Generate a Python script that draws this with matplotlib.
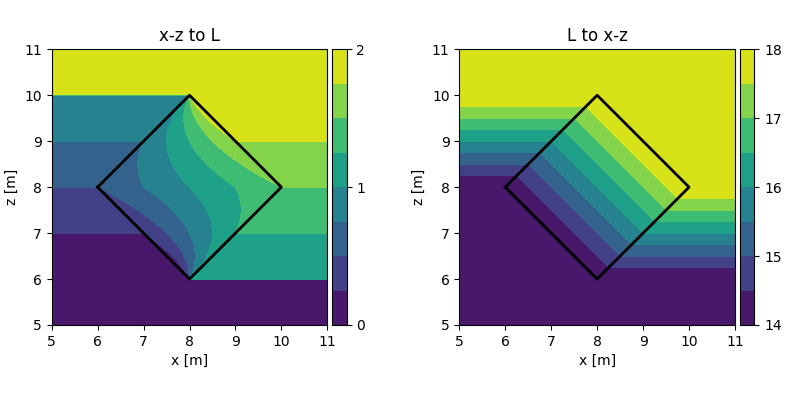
import numpy as np
import matplotlib
matplotlib.use("Agg")
import matplotlib.pyplot as plt

# ---- data ----
square_x = [6, 8, 10, 8, 6]          # rotated square outline (x)
square_z = [8, 10, 8, 6, 8]          # rotated square outline (z)
x_range = [5, 11]
z_range = [5, 11]
L_levels = [0, 0.25, 0.5, 0.75, 1.0, 1.25, 1.5, 1.75, 2.0]
L_ticks = [0, 1, 2]
XZ_levels = [14, 14.5, 15, 15.5, 16, 16.5, 17, 17.5, 18]
XZ_ticks = [14, 15, 16, 17, 18]
# L along the square's left edges (bottom corner -> top corner)
L_left_edges = [0.0, 1.0]
# L along the square's right edges (bottom corner -> top corner)
L_right_edges = [1.0, 2.0]
titles = ["x-z to L", "L to x-z"]

# ---- grid ----
x = np.linspace(x_range[0], x_range[1], 301)
z = np.linspace(z_range[0], z_range[1], 301)
X, Z = np.meshgrid(x, z)
xc, zc = square_x[1], square_z[0]          # centre of square (8, 8)
half = square_x[2] - xc                    # half diagonal (2)
zb, zt = zc - half, zc + half              # bottom/top corner z

# horizontal extent of the square at each height
xmin_z = xc - half + np.abs(Z - zc)
xmax_z = xc + half - np.abs(Z - zc)
width = np.maximum(xmax_z - xmin_z, 1e-9)
frac = np.clip((X - xmin_z) / width, 0, 1)

# left field: edge values interpolated horizontally across the square
l0, l1 = L_left_edges
r0, r1 = L_right_edges
s = (Z - zb) / (zt - zb)
FL = l0 + (l1 - l0) * s
FR = r0 + (r1 - r0) * s
Lf = FL + (FR - FL) * frac
Lf = np.where(Z < zb, l0, Lf)
Lf = np.where(Z > zt, r1, Lf)
Lf = np.clip(Lf, L_levels[0], L_levels[-1])

# right field: x+z of the point in the square at the same height
Xe = np.clip(X, xmin_z, np.maximum(xmin_z, xmax_z))
G = np.clip(Xe + Z, XZ_levels[0], XZ_levels[-1])
G = np.where(Z < zb, XZ_levels[0], G)
G = np.where(Z > zt, XZ_levels[-1], G)

# ---- figure ----
fig = plt.figure(figsize=(8.02, 4.07), dpi=100)
W, H = 802, 407
ax_pos = [(51.7, 325.0, 275.6, 275.7), (459.3, 325.0, 275.7, 275.7)]
cb_x = [332.3, 740.0]
cb_w = 14.4

fields = [(Lf, L_levels, L_ticks), (G, XZ_levels, XZ_ticks)]
for i, (F, lev, ticks) in enumerate(fields):
    l, b, w, h = ax_pos[i]
    ax = fig.add_axes([l / W, (H - b) / H, w / W, h / H])
    cax = fig.add_axes([cb_x[i] / W, (H - b) / H, cb_w / W, h / H])
    cs = ax.contourf(X, Z, F, levels=lev, cmap="viridis")
    ax.plot(square_x, square_z, color="black", lw=2)
    ax.set_xlim(x_range)
    ax.set_ylim(z_range)
    ax.set_xticks(range(5, 12))
    ax.set_yticks(range(5, 12))
    ax.set_xlabel("x [m]")
    ax.set_ylabel("z [m]")
    ax.set_title(titles[i])
    cb = fig.colorbar(cs, cax=cax)
    cb.set_ticks(ticks)

fig.savefig("out.png", dpi=100)
